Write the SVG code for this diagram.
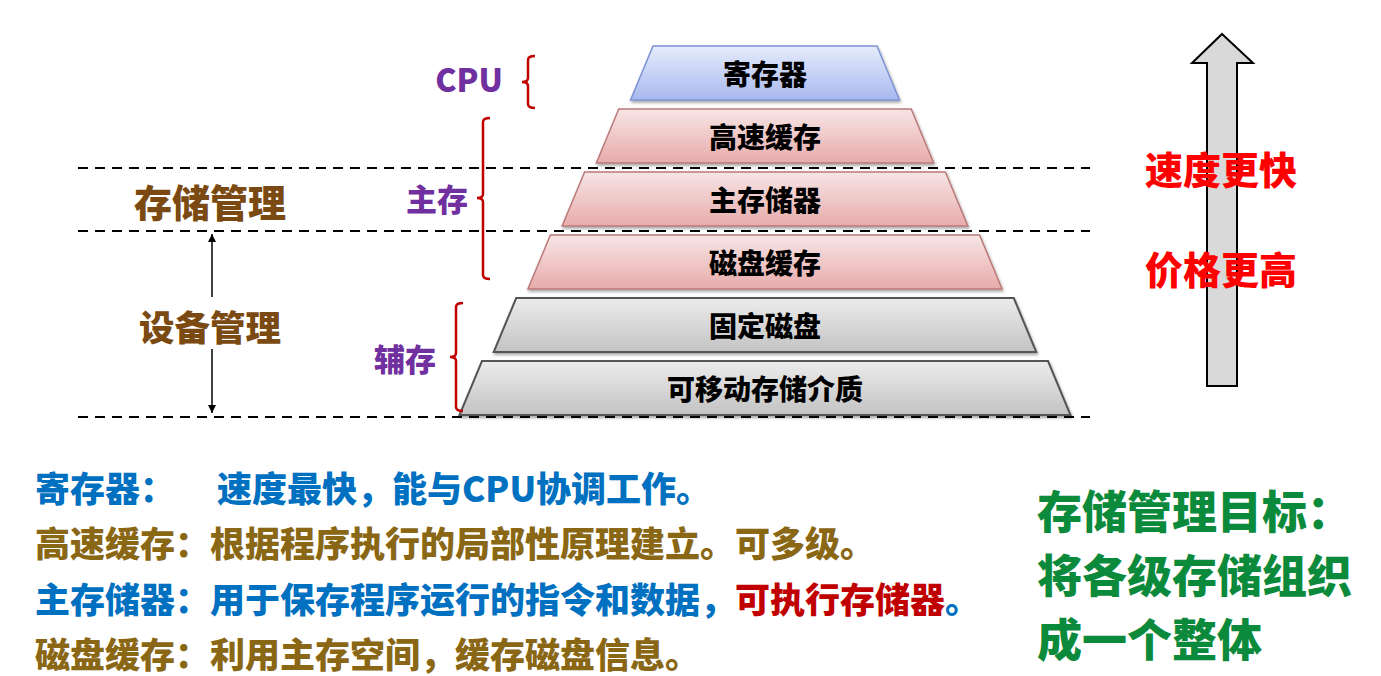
<svg xmlns="http://www.w3.org/2000/svg" width="1381" height="676" viewBox="0 0 1381 676">
<style>
text{font-family:"Noto Sans CJK SC","Microsoft YaHei",sans-serif;font-weight:900;dominant-baseline:central}
.lvl text{font-size:28px;fill:#000;text-anchor:middle}
.dash{stroke:#000;stroke-width:2;stroke-dasharray:10 7;fill:none}
.brk{stroke:#c00000;stroke-width:2.5;fill:none}
.purple{fill:#7030a0}
.brown{fill:#7b4a12;text-anchor:middle}
.red{fill:#ff0000;font-size:38px;text-anchor:middle}
.bl{font-size:35px}
.blue{fill:#0070c0}
.gold{fill:#8a6714}
.dred{fill:#c00000}
.green{fill:#0b8a3c;font-size:45px}
</style>
<defs>
<linearGradient id="gBlue" x1="0" y1="0" x2="0" y2="1"><stop offset="0" stop-color="#e6ecfc"/><stop offset="1" stop-color="#a8b8ee"/></linearGradient>
<linearGradient id="gPink" x1="0" y1="0" x2="0" y2="1"><stop offset="0" stop-color="#f7e5e5"/><stop offset="1" stop-color="#e8abab"/></linearGradient>
<linearGradient id="gGray" x1="0" y1="0" x2="0" y2="1"><stop offset="0" stop-color="#ececec"/><stop offset="1" stop-color="#c3c3c3"/></linearGradient>
<filter id="sh" x="-10%" y="-20%" width="120%" height="150%"><feDropShadow dx="1" dy="2" stdDeviation="1.5" flood-color="#000" flood-opacity="0.35"/></filter>
<marker id="ah" viewBox="0 0 10 10" refX="10" refY="5" markerWidth="8" markerHeight="10" orient="auto" markerUnits="userSpaceOnUse"><path d="M0,0 L10,5 L0,10 z" fill="#000"/></marker>
</defs>
<rect width="1381" height="676" fill="#fff"/>

<g id="dividers">
<line class="dash" x1="78" y1="168" x2="1090" y2="168"/>
<line class="dash" x1="78" y1="231" x2="1090" y2="231"/>
<line class="dash" x1="78" y1="417" x2="1090" y2="417"/>
</g>

<g id="level-register" class="lvl">
<polygon points="653,46 877,46 899.5,100 630.5,100" fill="url(#gBlue)" stroke="#7d93d3" stroke-width="1.5" filter="url(#sh)"/>
<text x="765" y="73">寄存器</text>
</g>
<g id="level-cache" class="lvl">
<polygon points="618.8,109 911.2,109 933.7,163 596.3,163" fill="url(#gPink)" stroke="#bb7a7a" stroke-width="1.5" filter="url(#sh)"/>
<text x="765" y="136">高速缓存</text>
</g>
<g id="level-main" class="lvl">
<polygon points="584.6,172 945.4,172 967.9,226 562.1,226" fill="url(#gPink)" stroke="#bb7a7a" stroke-width="1.5" filter="url(#sh)"/>
<text x="765" y="199">主存储器</text>
</g>
<g id="level-diskcache" class="lvl">
<polygon points="550.4,235 979.6,235 1002.1,289 527.9,289" fill="url(#gPink)" stroke="#bb7a7a" stroke-width="1.5" filter="url(#sh)"/>
<text x="765" y="262">磁盘缓存</text>
</g>
<g id="level-disk" class="lvl">
<polygon points="516.2,298 1013.8,298 1036.3,352 493.7,352" fill="url(#gGray)" stroke="#555" stroke-width="2" filter="url(#sh)"/>
<text x="765" y="325">固定磁盘</text>
</g>
<g id="level-removable" class="lvl">
<polygon points="482,361 1048,361 1070.5,415 459.5,415" fill="url(#gGray)" stroke="#555" stroke-width="2" filter="url(#sh)"/>
<text x="765" y="388">可移动存储介质</text>
</g>

<g id="group-cpu">
<path class="brk" d="M535,56 Q528,56 528,60 L528,78 Q528,82 522,82 Q528,82 528,86 L528,104 Q528,108 535,108"/>
<text class="purple" x="503" y="78" font-size="32" text-anchor="end">CPU</text>
</g>
<g id="group-main">
<path class="brk" d="M490,118 Q483,118 483,122 L483,194 Q483,198 477,198 Q483,198 483,202 L483,275 Q483,279 490,279"/>
<text class="purple" x="468" y="197" font-size="31" text-anchor="end">主存</text>
</g>
<g id="group-aux">
<path class="brk" d="M463,303 Q456,303 456,307 L456,353 Q456,357 450,357 Q456,357 456,361 L456,407 Q456,411 463,411"/>
<text class="purple" x="436" y="357" font-size="31" text-anchor="end">辅存</text>
</g>

<g id="label-storage-mgmt"><text class="brown" x="210" y="200" font-size="38">存储管理</text></g>
<g id="label-device-mgmt"><text class="brown" x="210" y="325" font-size="35.5">设备管理</text></g>

<g id="connectors">
<line x1="212" y1="297" x2="212" y2="234" stroke="#000" stroke-width="1.5" marker-end="url(#ah)"/>
<line x1="212" y1="349" x2="212" y2="413" stroke="#000" stroke-width="1.5" marker-end="url(#ah)"/>
</g>

<g id="speed-arrow">
<polygon points="1222,34 1253,63 1237,63 1237,386 1207,386 1207,63 1192,63" fill="#d9d9d9" stroke="#000" stroke-width="2"/>
<text class="red" x="1221" y="167">速度更快</text>
<text class="red" x="1221" y="267">价格更高</text>
</g>

<g id="notes">
<text class="bl blue" x="35" y="486">寄存器：</text>
<text class="bl blue" x="217" y="486">速度最快，能与CPU协调工作。</text>
<text class="bl gold" x="35" y="541">高速缓存：根据程序执行的局部性原理建立。可多级。</text>
<text class="bl blue" x="35" y="597">主存储器：用于保存程序运行的指令和数据，<tspan class="dred">可执行存储器</tspan>。</text>
<text class="bl gold" x="35" y="652">磁盘缓存：利用主存空间，缓存磁盘信息。</text>
</g>

<g id="goal">
<text class="green" x="1037" y="509">存储管理目标：</text>
<text class="green" x="1037" y="573">将各级存储组织</text>
<text class="green" x="1037" y="637">成一个整体</text>
</g>
</svg>
